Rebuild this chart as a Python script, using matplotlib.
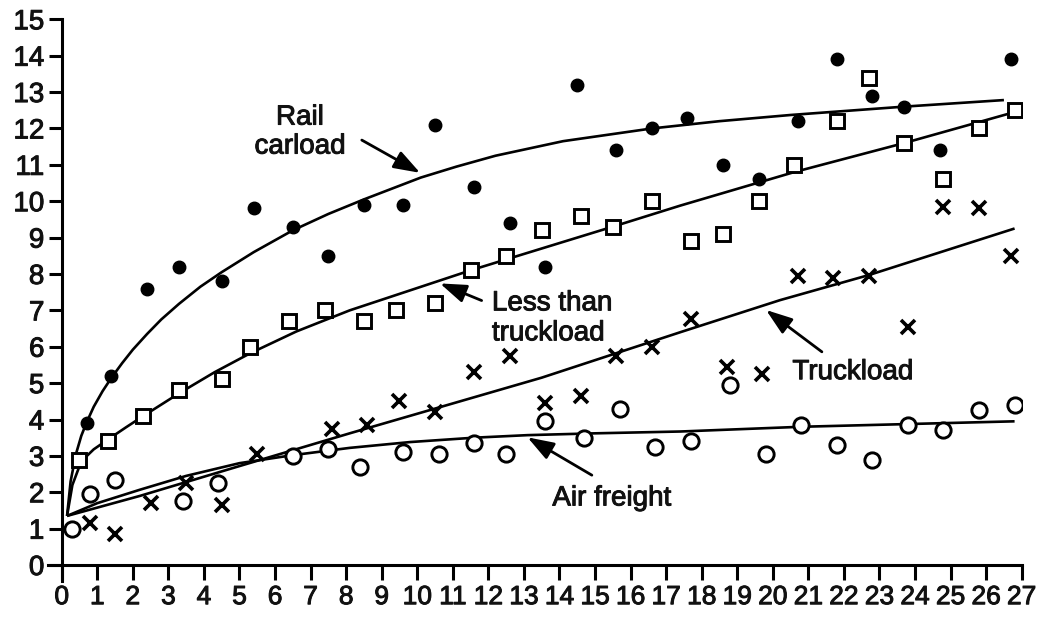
import matplotlib
matplotlib.use('Agg')
import matplotlib.pyplot as plt
import matplotlib.patheffects as pe

plt.rcParams['font.family'] = ['Liberation Sans', 'DejaVu Sans']

# scatter data
rail_x = [0.7, 1.4, 2.4, 3.3, 4.5, 5.4, 6.5, 7.5, 8.5, 9.6, 10.5, 11.6, 12.6, 13.6, 14.5, 15.6, 16.6,
          17.6, 18.6, 19.6, 20.7, 21.8, 22.8, 23.7, 24.7, 26.7]
rail_y = [3.9, 5.2, 7.6, 8.2, 7.8, 9.8, 9.3, 8.5, 9.9, 9.9, 12.1, 10.4, 9.4, 8.2, 13.2, 11.4, 12.0,
          12.3, 11.0, 10.6, 12.2, 13.9, 12.9, 12.6, 11.4, 13.9]

ltl_x = [0.5, 1.3, 2.3, 3.3, 4.5, 5.3, 6.4, 7.4, 8.5, 9.4, 10.5, 11.5, 12.5, 13.5, 14.6, 15.5, 16.6,
         17.7, 18.6, 19.6, 20.6, 21.8, 22.7, 23.7, 24.8, 25.8, 26.8]
ltl_y = [2.9, 3.4, 4.1, 4.8, 5.1, 6.0, 6.7, 7.0, 6.7, 7.0, 7.2, 8.1, 8.5, 9.2, 9.6, 9.3, 10.0,
         8.9, 9.1, 10.0, 11.0, 12.2, 13.4, 11.6, 10.6, 12.0, 12.5]

truck_x = [0.8, 1.5, 2.5, 3.5, 4.5, 5.5, 7.6, 8.6, 9.5, 10.5, 11.6, 12.6, 13.6, 14.6, 15.6, 16.6,
           17.7, 18.7, 19.7, 20.7, 21.7, 22.7, 23.8, 24.8, 25.8, 26.7]
truck_y = [1.15, 0.85, 1.7, 2.25, 1.65, 3.05, 3.75, 3.85, 4.5, 4.2, 5.3, 5.75, 4.45, 4.65, 5.75, 6.0,
           6.75, 5.45, 5.25, 7.95, 7.9, 7.95, 6.55, 9.85, 9.8, 8.5]

air_x = [0.3, 0.8, 1.5, 3.4, 4.4, 6.5, 7.5, 8.4, 9.6, 10.6, 11.6, 12.5, 13.6, 14.7, 15.7, 16.7,
         17.7, 18.8, 19.8, 20.8, 21.8, 22.8, 23.8, 24.8, 25.8, 26.8]
air_y = [1.0, 1.95, 2.35, 1.75, 2.25, 3.0, 3.2, 2.7, 3.1, 3.05, 3.35, 3.05, 3.95, 3.5, 4.3, 3.25,
         3.4, 4.95, 3.05, 3.85, 3.3, 2.9, 3.85, 3.7, 4.25, 4.4]

# trend curves
rail_fit_x = [0.15, 0.25, 0.4, 0.55, 0.7, 0.9, 1.15, 1.4, 1.7, 2.0, 2.4, 2.8, 3.3, 3.9, 4.5, 5.4,
              6.5, 7.5, 8.5, 10.1, 11.1, 12.2, 14.1, 16.6, 18.5, 20.5, 23.7, 26.5]
rail_fit_y = [1.35, 2.3, 3.05, 3.55, 3.92, 4.35, 4.78, 5.15, 5.55, 5.92, 6.35, 6.75, 7.18, 7.65, 8.05,
              8.6, 9.2, 9.65, 10.05, 10.65, 10.95, 11.25, 11.65, 12.0, 12.2, 12.37, 12.6, 12.78]

ltl_fit_x = [0.15, 0.3, 0.55, 0.9, 1.3, 1.8, 2.3, 3.3, 4.3, 5.3, 6.6, 8.1, 9.8, 11.5, 13.5, 15.5,
             17.4, 20.6, 23.7, 26.8]
ltl_fit_y = [1.35, 2.2, 2.85, 3.18, 3.45, 3.78, 4.1, 4.72, 5.3, 5.82, 6.42, 7.0, 7.55, 8.1, 8.7, 9.3,
             9.88, 10.8, 11.6, 12.45]

truck_fit_x = [0.15, 2.2, 5.0, 8.1, 10.5, 13.5, 17.4, 20.2, 22.7, 26.8]
truck_fit_y = [1.35, 1.9, 2.72, 3.62, 4.3, 5.15, 6.4, 7.28, 7.97, 9.25]

air_fit_x = [0.15, 1.0, 2.2, 3.5, 5.0, 6.5, 8.1, 9.8, 11.6, 13.1, 15.0, 17.4, 20.8, 26.8]
air_fit_y = [1.35, 1.7, 2.07, 2.45, 2.8, 3.02, 3.22, 3.38, 3.5, 3.57, 3.62, 3.67, 3.8, 3.95]

x_ticks = list(range(0, 28))
y_ticks = list(range(0, 16))

fig = plt.figure(figsize=(10.41, 6.19), dpi=100)
ax = fig.add_axes([47.5 / 1041, 37.6 / 619, 974.2 / 1041, 562.1 / 619])

line_kw = dict(color='black', lw=1.9, solid_capstyle='butt', solid_joinstyle='round', zorder=2)
ax.plot(rail_fit_x, rail_fit_y, **line_kw)
ax.plot(ltl_fit_x, ltl_fit_y, **line_kw)
ax.plot(truck_fit_x, truck_fit_y, **line_kw)
ax.plot(air_fit_x, air_fit_y, **line_kw)

ax.plot(rail_x, rail_y, 'o', ms=9, color='black', zorder=3)
ax.plot(ltl_x, ltl_y, 's', ms=10, mfc='white', mec='black', mew=2.1, zorder=3)
ax.plot(truck_x, truck_y, 'x', ms=10, color='black', mew=2.6, zorder=3)
ax.plot(air_x, air_y, 'o', ms=11, mfc='white', mec='black', mew=2.1, zorder=3)

# slightly heavier text, like the printed scan
ink = [pe.withStroke(linewidth=0.7, foreground='#111111')]

text_kw = dict(fontsize=20, color='#111111', path_effects=ink)
arrow_kw = dict(arrowstyle='-|>,head_length=0.8,head_width=0.28', color='black', lw=2,
                mutation_scale=20, shrinkA=0, shrinkB=0)

ax.text(6.7, 11.9, 'Rail\ncarload', ha='center', va='center', linespacing=1.15, **text_kw)
ax.annotate('', xy=(10.08, 10.78), xytext=(8.44, 11.68), arrowprops=arrow_kw)

ax.text(12.1, 6.78, 'Less than\ntruckload', ha='left', va='center', linespacing=1.2, **text_kw)
ax.annotate('', xy=(10.64, 7.74), xytext=(11.81, 7.27), arrowprops=arrow_kw)

ax.text(20.55, 5.3, 'Truckload', ha='left', va='center', **text_kw)
ax.annotate('', xy=(19.81, 7.01), xytext=(21.38, 5.86), arrowprops=arrow_kw)

ax.text(13.8, 1.83, 'Air freight', ha='left', va='center', **text_kw)
ax.annotate('', xy=(13.1, 3.51), xytext=(14.91, 2.47), arrowprops=arrow_kw)

# axes drawn through the origin like the printed figure
ax.set_xlim(-0.4, 27.0)
ax.set_ylim(-0.45, 15.0)
ax.spines['left'].set_position(('data', 0))
ax.spines['bottom'].set_position(('data', 0))
ax.spines['right'].set_visible(False)
ax.spines['top'].set_visible(False)
for s in ['left', 'bottom']:
    ax.spines[s].set_linewidth(2.2)

ax.set_xticks(x_ticks)
ax.set_yticks(y_ticks)
ax.tick_params(axis='x', direction='out', length=10.5, width=2.2, pad=4, labelsize=19)
ax.tick_params(axis='y', direction='out', length=9.5, width=2.2, pad=3, labelsize=20)
for lab in ax.get_xticklabels() + ax.get_yticklabels():
    lab.set_color('#111111')
    lab.set_path_effects(ink)

fig.savefig('out.png', dpi=100)
